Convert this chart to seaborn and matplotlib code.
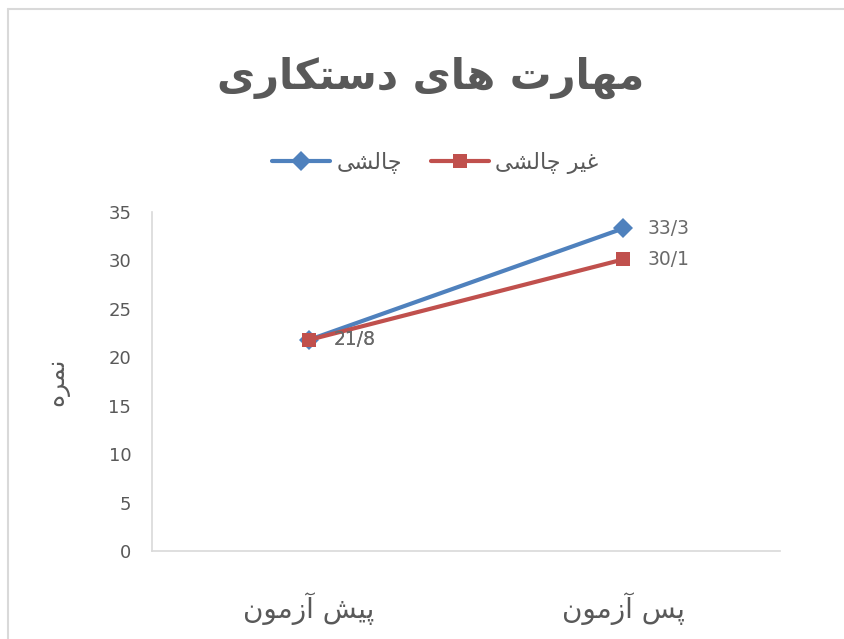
import matplotlib
matplotlib.use("Agg")
import matplotlib.pyplot as plt
import seaborn as sns
import pandas as pd
from matplotlib.lines import Line2D

# ── data ─────────────────────────────────────────────
title = "مهارت های دستکاری"
y_label = "نمره"
categories = ["پیش آزمون", "پس آزمون"]
series_names = ["چالشی", "غیر چالشی"]
challenging = [21.8, 33.3]
non_challenging = [21.8, 30.1]
value_labels = {"چالشی": ["21/8", "33/3"], "غیر چالشی": ["21/8", "30/1"]}
y_ticks = [0, 5, 10, 15, 20, 25, 30, 35]

colors = {"چالشی": "#4F81BD", "غیر چالشی": "#C0504D"}
markers = {"چالشی": "D", "غیر چالشی": "s"}
TEXT = "#595959"
AXIS = "#D9D9D9"

# ── minimal arabic/persian shaping (matplotlib has no text shaping) ──
# iso, final, initial, medial
FORMS = {
    "ا": ("\uFE8D", "\uFE8E", None, None),
    "آ": ("\uFE81", "\uFE82", None, None),
    "د": ("\uFEA9", "\uFEAA", None, None),
    "ر": ("\uFEAD", "\uFEAE", None, None),
    "ز": ("\uFEAF", "\uFEB0", None, None),
    "و": ("\uFEED", "\uFEEE", None, None),
    "پ": ("\uFB56", "\uFB57", "\uFB58", "\uFB59"),
    "ت": ("\uFE95", "\uFE96", "\uFE97", "\uFE98"),
    "چ": ("\uFB7A", "\uFB7B", "\uFB7C", "\uFB7D"),
    "س": ("\uFEB1", "\uFEB2", "\uFEB3", "\uFEB4"),
    "ش": ("\uFEB5", "\uFEB6", "\uFEB7", "\uFEB8"),
    "غ": ("\uFECD", "\uFECE", "\uFECF", "\uFED0"),
    "ک": ("\uFB8E", "\uFB8F", "\uFB90", "\uFB91"),
    "ل": ("\uFEDD", "\uFEDE", "\uFEDF", "\uFEE0"),
    "م": ("\uFEE1", "\uFEE2", "\uFEE3", "\uFEE4"),
    "ن": ("\uFEE5", "\uFEE6", "\uFEE7", "\uFEE8"),
    "ه": ("\uFEE9", "\uFEEA", "\uFEEB", "\uFEEC"),
    "ی": ("\uFBFC", "\uFBFD", "\uFBFE", "\uFBFF"),
}


def fa(text):
    out = []
    for i, ch in enumerate(text):
        if ch not in FORMS:
            out.append(ch)
            continue
        iso, fin, ini, med = FORMS[ch]
        prev = text[i - 1] if i > 0 else ""
        nxt = text[i + 1] if i + 1 < len(text) else ""
        jp = prev in FORMS and FORMS[prev][2] is not None
        jn = nxt in FORMS and ini is not None
        if jp and jn:
            out.append(med)
        elif jp:
            out.append(fin)
        elif jn:
            out.append(ini)
        else:
            out.append(iso)
    return "".join(reversed(out))


# ── long table for seaborn ───────────────────────────
df = pd.DataFrame({
    "test": [fa(c) for c in categories] * 2,
    "score": challenging + non_challenging,
    "group": [series_names[0]] * len(categories) + [series_names[1]] * len(categories),
})

sns.set_theme(style="white")
plt.rcParams["font.family"] = ["DejaVu Sans"]

fig = plt.figure(figsize=(8.45, 6.39), dpi=100)
ax = fig.add_axes([0.180, 0.1377, 0.743, 0.5305])

sns.lineplot(data=df, x="test", y="score", hue="group", style="group",
             palette=colors, markers=markers, dashes=False, lw=3,
             markersize=10, markeredgewidth=0, ax=ax, legend=False)

# data labels
for name, vals in zip(series_names, [challenging, non_challenging]):
    for i, v in enumerate(vals):
        ax.annotate(value_labels[name][i], (i, v), xytext=(18, 0),
                    textcoords="offset points", va="center", ha="left",
                    fontsize=13.5, color="#6A6A6A")

ax.set_xlim(-0.5, 1.5)
ax.set_ylim(0, 35)
ax.set_yticks(y_ticks)
ax.set_xlabel("")
ax.set_ylabel(fa(y_label), fontsize=18, color=TEXT, labelpad=28)
ax.tick_params(axis="both", length=0, colors=TEXT)
ax.tick_params(axis="y", labelsize=13, pad=15)
ax.tick_params(axis="x", labelsize=20, pad=30)
sns.despine(ax=ax)
for s in ["left", "bottom"]:
    ax.spines[s].set_color(AXIS)
    ax.spines[s].set_linewidth(1.2)

fig.text(0.51, 0.878, fa(title), ha="center", va="center",
         fontsize=30, fontweight="bold", color=TEXT)

handles = [Line2D([], [], color=colors[n], lw=3, marker=markers[n],
                  markersize=10, markeredgewidth=0) for n in series_names]
fig.legend(handles, [fa(n) for n in series_names], loc="center",
           bbox_to_anchor=(0.515, 0.745), ncol=2, frameon=False,
           fontsize=16, handlelength=2.6, handletextpad=0.3,
           columnspacing=1.3, labelcolor=TEXT)

# chart-area border (visible on left and top)
fig.add_artist(Line2D([0.0095, 0.0095], [0, 0.986], color=AXIS, lw=1.5,
                      transform=fig.transFigure))
fig.add_artist(Line2D([0.0095, 1], [0.986, 0.986], color=AXIS, lw=1.5,
                      transform=fig.transFigure))

fig.savefig("out.png", dpi=100)
